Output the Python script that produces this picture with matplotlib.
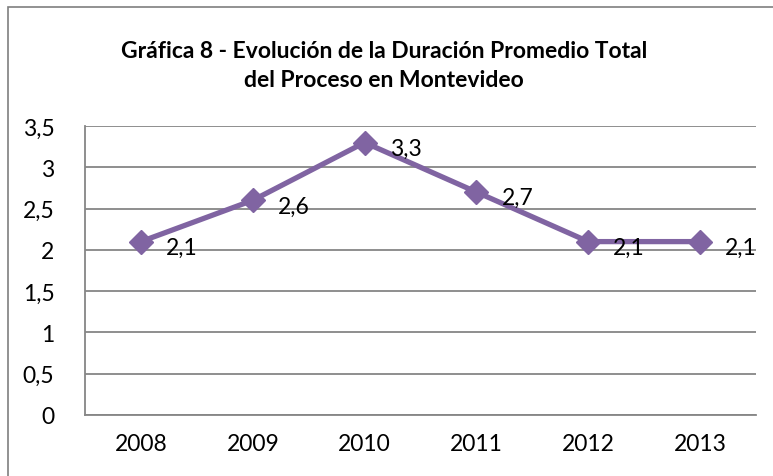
import matplotlib.pyplot as plt
from matplotlib.patches import Rectangle

# ----------------------------
# Data
# ----------------------------

years = ["2008", "2009", "2010", "2011", "2012", "2013"]
duration = [2.1, 2.6, 3.3, 2.7, 2.1, 2.1]
y_ticks = [0, 0.5, 1, 1.5, 2, 2.5, 3, 3.5]
y_tick_labels = ["0", "0,5", "1", "1,5", "2", "2,5", "3", "3,5"]

title = "Gráfica 8 - Evolución de la Duración Promedio Total\ndel Proceso en Montevideo"

plt.rcParams["font.family"] = ["Lato", "DejaVu Sans"]

purple = "#8064A2"
grid_gray = "#868686"

# ----------------------------
# Figure
# ----------------------------

W, H = 773, 477
fig = plt.figure(figsize=(W / 100, H / 100), dpi=100)

# outer chart border (cut off on right/bottom like the reference)
fig.patches.append(Rectangle((8 / W, -0.1), 1.2, 1 - 8 / H + 0.1,
                             transform=fig.transFigure, fill=False,
                             edgecolor="#7f7f7f", linewidth=1.2))

left, right = 85, 756
top, bottom = 127, 416
ax = fig.add_axes([left / W, 1 - bottom / H, (right - left) / W, (bottom - top) / H])

x = list(range(len(years)))
ax.plot(x, duration, color=purple, linewidth=3.8, marker="D",
        markersize=12, zorder=3, clip_on=False)

for xi, v in zip(x, duration):
    ax.annotate(f"{v:.1f}".replace(".", ","), (xi, v), xytext=(18, -4),
                textcoords="offset points", ha="left", va="center",
                fontsize=16.5, color="black", zorder=4)

ax.set_xlim(-0.5, len(years) - 0.5)
ax.set_ylim(0, 3.5)
ax.set_xticks(x)
ax.set_xticklabels(years, fontsize=16.5)
ax.set_yticks(y_ticks)
ax.set_yticklabels(y_tick_labels, fontsize=16.5)
ax.tick_params(axis="both", length=0)
ax.tick_params(axis="x", pad=13)
ax.tick_params(axis="y", pad=22)

ax.grid(axis="y", color=grid_gray, linewidth=1.3)
ax.set_axisbelow(True)
for s in ["top", "right"]:
    ax.spines[s].set_visible(False)
for s in ["left", "bottom"]:
    ax.spines[s].set_color(grid_gray)
    ax.spines[s].set_linewidth(1.3)

fig.text(384 / W, 1 - 66 / H, title, ha="center", va="center",
         fontsize=16.5, fontweight="bold", linespacing=1.5)

fig.savefig("out.png", dpi=100)
